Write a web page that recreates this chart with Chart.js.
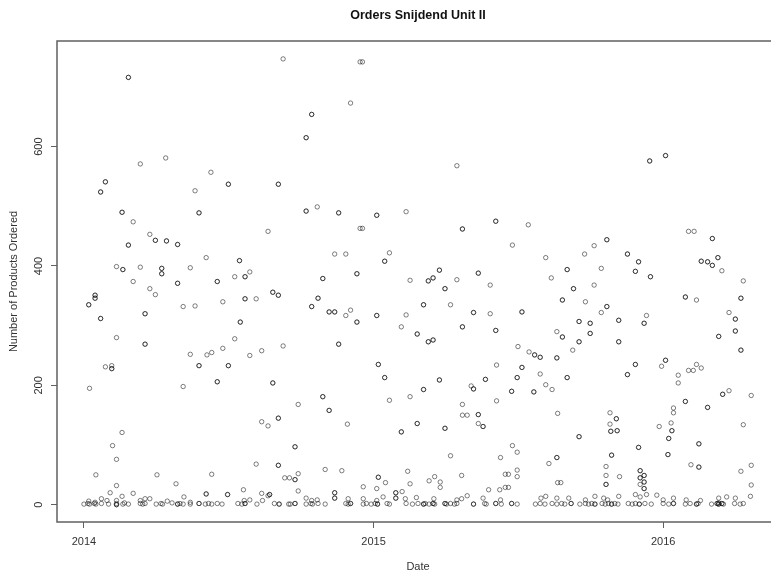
<!DOCTYPE html>
<html>
<head>
<meta charset="utf-8">
<title>Orders Snijdend Unit II</title>
<script src="https://cdn.jsdelivr.net/npm/chart.js@4.4.1/dist/chart.umd.min.js"></script>
<style>
  html, body { margin: 0; padding: 0; background: #ffffff; overflow: hidden; }
  #wrap { width: 771px; height: 575px; overflow: hidden; }
</style>
</head>
<body>
<div id="wrap"><canvas id="orders" width="800" height="575"></canvas></div>
<script>
// Days are counted from 1 January 2014; each pair is [day, products ordered].
// Orders that repeat on the same day with the same quantity appear twice.
const orders2014 = [
  [56,716],[56,716],[251,747],[71,571],[103,581],[160,557],[27,541],[27,541],[21,524],[21,524],
  [182,537],[182,537],[245,537],[245,537],[140,526],[48,490],[48,490],[145,489],[145,489],[62,474],
  [232,458],[83,453],[90,443],[90,443],[104,442],[104,442],[118,436],[118,436],[56,435],[56,435],
  [154,414],[196,409],[196,409],[41,399],[49,394],[49,394],[71,398],[98,396],[98,396],[98,387],
  [98,387],[134,397],[209,390],[203,382],[203,382],[190,382],[62,374],[118,371],[118,371],[168,374],
  [168,374],[83,362],
  [90,352],[6,335],[6,335],[14,351],[14,351],[14,346],[14,346],[21,312],[21,312],[41,280],
  [77,320],[77,320],[77,269],[77,269],[27,231],[35,233],[35,228],[35,228],[7,195],[125,332],
  [140,333],[175,340],[203,345],[203,345],[217,345],[238,356],[238,356],[245,351],[245,351],[197,306],
  [197,306],[190,278],[251,266],[134,252],[155,251],[161,255],[175,262],[145,233],[145,233],[182,233],
  [182,233],[209,250],[224,258],[168,206],[168,206],[238,204],[238,204],[125,198],[48,121],[36,99],
  [41,76],[15,50],[41,32],[62,19],[92,50],[116,35],[161,51],[224,139],[232,132],[245,145],
  [245,145],[217,68],[245,66],[245,66],[253,45],[259,45],[266,97],[266,97],[266,42],[266,42],
  [201,25],[154,18],[154,18],[181,17],[181,17],[224,19],[234,17],[234,17],[126,13],
  [0,1],[5,2],[7,1],[13,2],[15,1],[22,2],[31,1],[41,2],[41,0],[41,0],[49,1],[51,3],[56,1],
  [71,2],[74,1],[77,2],[91,1],[97,2],[99,1],[111,3],[118,1],[118,1],[121,2],[125,1],[134,1],
  [145,2],[145,2],[153,1],[157,2],[161,1],[168,2],[174,1],[194,2],[199,1],[203,2],[203,2],
  [218,1],[240,2],[246,1],[246,1],[258,1],
  [6,6],[14,4],[22,10],[29,7],[33,20],[41,7],[48,14],[71,7],[77,10],[83,10],[105,6],[134,4],
  [202,7],[209,8],[225,7],[232,15],
  [348,742],[351,742],[336,673],[287,654],[287,654],[280,615],[280,615],[280,492],[280,492],[294,499],
  [321,489],[321,489],[348,463],[351,463],[316,420],[330,420],[301,379],[301,379],[344,387],[344,387],
  [295,346],[295,346],[287,332],[287,332],[309,323],[309,323],[316,323],[316,323],[330,317],[336,326],
  [344,306],[344,306],[321,269],[321,269],[301,181],[301,181],[270,168],[309,158],[309,158],[332,135],
  [270,52],[304,59],[325,57],[270,23],[352,30],[316,20],[316,20],[316,11],[316,11],
  [260,1],[266,2],[266,2],[280,1],[286,2],[288,1],[295,2],[304,1],[330,2],[333,1],[336,2],[336,2],
  [352,1],[356,2],[362,1],
  [280,11],[287,7],[294,8],[333,10],[352,10]
];

const orders2015 = [
  [470,568],[369,485],[369,485],[406,491],[477,462],[477,462],[519,475],[519,475],[560,469],[540,435],
  [385,422],[379,408],[379,408],[411,376],[434,375],[434,375],[440,380],[440,380],[448,393],[448,393],
  [455,362],[455,362],[470,377],[497,388],[497,388],[512,368],
  [369,317],[369,317],[406,318],[400,298],[428,335],[428,335],[462,335],[420,286],[420,286],[434,273],
  [434,273],[440,276],[440,276],[491,322],[491,322],[512,320],[552,323],[552,323],[477,298],[477,298],
  [519,292],[519,292],[547,265],[561,256],[371,235],[371,235],[379,213],[379,213],[552,230],[552,230],
  [546,213],[546,213],[520,234],[448,209],[448,209],[428,193],[428,193],[488,199],[491,194],[491,194],
  [506,210],[506,210],[539,190],[539,190],[520,174],[385,175],[411,181],[400,122],[400,122],[420,136],
  [420,136],[455,128],[455,128],[477,168],[477,150],[483,150],[497,151],[497,151],[497,136],[503,131],
  [503,131],[462,82],[540,99],[546,88],[525,79],[371,46],[371,46],[380,37],[369,27],[408,56],
  [411,35],[393,20],[393,20],[393,11],[393,11],[401,22],[435,40],[442,47],[449,38],[449,29],
  [476,49],[510,25],[524,25],[531,51],[535,51],[531,29],[535,29],[546,58],[546,47],
  [367,2],[370,1],[370,1],[382,2],[385,1],[406,2],[414,1],[421,2],[428,1],[428,1],[430,2],[435,1],
  [440,2],[440,2],[442,1],[455,2],[455,2],[457,1],[462,2],[467,1],[470,2],[491,1],[491,1],[505,2],
  [507,1],[519,2],[519,2],[526,1],[539,2],[539,2],[546,1],
  [369,7],[377,13],[405,10],[419,12],[441,10],[470,8],[476,10],[483,15],[503,11],[525,8],
  [713,576],[713,576],[659,444],[659,444],[643,434],[631,420],[582,414],[685,420],[685,420],[699,407],
  [699,407],[695,391],[695,391],[714,382],[714,382],[609,394],[609,394],[652,396],[589,380],[643,368],
  [617,362],[617,362],
  [603,343],[603,343],[632,340],[659,332],[659,332],[652,322],[624,307],[624,307],[638,304],[638,304],
  [674,309],[674,309],[596,290],[603,281],[603,281],[638,287],[638,287],[624,273],[624,273],[674,273],
  [674,273],[616,259],[568,251],[568,251],[575,247],[575,247],[596,246],[596,246],[706,304],[706,304],
  [709,317],[695,235],[695,235],[685,218],[685,218],[728,232],[575,219],[609,213],[609,213],[582,201],
  [590,193],[567,189],[567,189],[597,153],[725,131],[663,154],[671,144],[671,144],[663,135],[664,123],
  [664,123],[672,124],[672,124],[665,83],[665,83],[658,64],[658,49],[658,34],[658,34],[675,47],
  [624,114],[624,114],[699,96],[699,96],[701,57],[701,57],[706,49],[706,49],[701,45],[701,45],
  [706,38],[706,38],[701,34],[706,27],[706,27],[596,79],[596,79],[586,69],[597,37],[601,37],
  [709,17],[722,16],
  [569,1],[575,2],[581,1],[590,2],[596,1],[602,2],[606,1],[614,2],[614,2],[625,1],[632,2],[636,1],
  [640,2],[644,1],[644,1],[653,2],[657,1],[661,2],[665,1],[665,1],[669,2],[673,1],[686,2],[691,1],
  [695,2],[700,1],[700,1],[707,2],[715,1],
  [576,11],[582,14],[596,11],[611,11],[632,8],[644,14],[655,11],[660,8],[674,14],[695,17],[701,13]
];

const orders2016 = [
  [733,585],[733,585],[762,458],[769,458],[792,446],[792,446],[778,408],[778,408],[786,407],[786,407],
  [792,401],[792,401],[799,414],[799,414],[804,392],[831,375],
  [758,348],[758,348],[772,343],[828,346],[828,346],[813,322],[821,311],[821,311],[821,291],[821,291],
  [800,282],[800,282],[828,259],[828,259],[733,242],[733,242],[749,217],[749,204],[762,225],[768,225],
  [772,235],[778,229],[758,173],[758,173],[786,163],[786,163],[805,185],[805,185],[813,191],[841,183],
  [743,162],[743,154],[740,137],[741,124],[741,124],[737,111],[737,111],[736,84],[736,84],[775,102],
  [775,102],[765,67],[775,63],[775,63],[831,134],[841,66],[828,56],[841,33],
  [730,2],[737,1],[743,2],[743,2],[758,1],[764,2],[772,1],[772,1],[774,2],[791,1],[798,2],[798,2],
  [800,1],[800,1],[800,3],[804,2],[804,2],[806,1],[820,2],[827,1],[831,2],
  [730,8],[743,11],[759,8],[777,7],[800,11],[810,13],[821,11],[840,14]
];

// Axis ticks: the start of each year (in days from 1 Jan 2014) and product counts
const yearStartDays = [0, 365, 730];
const yearLabels = ['2014', '2015', '2016'];
const countTicks = [0, 200, 400, 600];

const FONT = "'Liberation Sans', Arial, Helvetica, sans-serif";
const TEXT = '#333333';
const FRAME = '#606060';

const points = orders2014.concat(orders2015, orders2016).map(([d, n]) => ({ x: d, y: n }));

// Closed frame around the plotting region
const frameBox = {
  id: 'frameBox',
  afterDatasetsDraw(chart) {
    const { ctx, chartArea: a } = chart;
    ctx.save();
    ctx.strokeStyle = FRAME;
    ctx.lineWidth = 1.5;
    ctx.strokeRect(a.left, a.top, a.right - a.left, a.bottom - a.top);
    ctx.restore();
  }
};

new Chart(document.getElementById('orders'), {
  type: 'scatter',
  data: {
    datasets: [{
      data: points,
      pointStyle: 'circle',
      pointRadius: 2.2,
      pointHoverRadius: 2.2,
      pointBorderWidth: 1,
      borderColor: 'rgba(0,0,0,0.5)',
      backgroundColor: 'rgba(0,0,0,0)'
    }]
  },
  options: {
    responsive: false,
    animation: false,
    events: [],
    layout: { padding: { left: 0, right: 21, top: 0, bottom: 0 } },
    plugins: {
      legend: { display: false },
      tooltip: { enabled: false },
      title: {
        display: true,
        text: 'Orders Snijdend Unit II',
        fullSize: false,
        color: '#111111',
        font: { family: FONT, size: 12.5, weight: 'bold' },
        padding: { top: 8.5, bottom: 17.5 }
      }
    },
    scales: {
      x: {
        type: 'linear',
        min: -34,
        max: 876,
        afterBuildTicks: s => { s.ticks = yearStartDays.map(v => ({ value: v })); },
        afterFit: s => { s.height = 53; },
        ticks: {
          autoSkip: false,
          maxRotation: 0,
          padding: 7,
          color: TEXT,
          font: { family: FONT, size: 11 },
          callback: v => yearLabels[yearStartDays.indexOf(v)]
        },
        grid: { display: true, drawOnChartArea: false, drawTicks: true, tickLength: 6, color: FRAME },
        border: { display: false },
        title: {
          display: true,
          text: 'Date',
          color: TEXT,
          font: { family: FONT, size: 11 },
          padding: { top: 0, bottom: 1.5 }
        }
      },
      y: {
        type: 'linear',
        min: -29,
        max: 777,
        afterBuildTicks: s => { s.ticks = countTicks.map(v => ({ value: v })); },
        afterFit: s => { s.width = 57; },
        ticks: {
          autoSkip: false,
          minRotation: 90,
          maxRotation: 90,
          crossAlign: 'center',
          padding: 3,
          color: TEXT,
          font: { family: FONT, size: 11 }
        },
        grid: { display: true, drawOnChartArea: false, drawTicks: true, tickLength: 6, color: FRAME },
        border: { display: false },
        title: {
          display: true,
          text: 'Number of Products Ordered',
          color: TEXT,
          font: { family: FONT, size: 11 },
          padding: { top: 7.4, bottom: 0 }
        }
      }
    }
  },
  plugins: [frameBox]
});
</script>
</body>
</html>
